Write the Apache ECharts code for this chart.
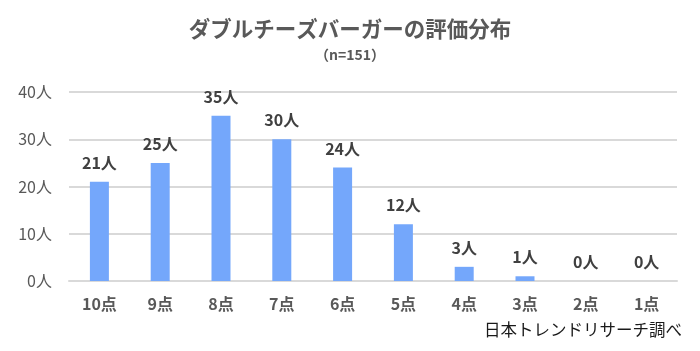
<!DOCTYPE html>
<html>
<head>
    <meta charset="utf-8">
    <title>ECharts</title>
    <script src="https://cdn.jsdelivr.net/npm/echarts@6/dist/echarts.min.js"></script>
</head>
<body style="margin:0">
<div id="main" style="width: 700px;height:351px;"></div>
<script type="text/javascript">
    var categories = ['10点', '9点', '8点', '7点', '6点', '5点', '4点', '3点', '2点', '1点'];
    var counts = [21, 25, 35, 30, 24, 12, 3, 1, 0, 0];
    var font = '"Noto Sans CJK JP", sans-serif';

    var myChart = echarts.init(document.getElementById('main'));
    var option = {
        backgroundColor: '#ffffff',
        textStyle: { fontFamily: font },
        title: [{
            text: 'ダブルチーズバーガーの評価分布',
            left: 'center',
            top: 13,
            textStyle: { fontFamily: font, fontSize: 21.5, fontWeight: 'bold', color: '#595959' }
        }, {
            text: '（n=151）',
            left: 'center',
            top: 43,
            textStyle: { fontFamily: font, fontSize: 14, fontWeight: 'bold', color: '#595959' }
        }, {
            text: '日本トレンドリサーチ調べ',
            right: 13,
            top: 316,
            textStyle: { fontFamily: font, fontSize: 16.5, fontWeight: 'normal', color: '#1a1a1a' }
        }],
        grid: { left: 69, right: 23, top: 92, bottom: 70 },
        xAxis: {
            type: 'category',
            data: categories,
            axisLine: { lineStyle: { color: '#d9d9d9', width: 2 } },
            axisTick: { show: false },
            axisLabel: { interval: 0, margin: 15, fontSize: 16, fontWeight: 'bold', color: '#595959', fontFamily: font }
        },
        yAxis: {
            type: 'value',
            min: 0,
            max: 40,
            interval: 10,
            axisLine: { show: false },
            axisTick: { show: false },
            splitLine: { lineStyle: { color: '#d9d9d9', width: 2 } },
            axisLabel: { formatter: '{value}人', margin: 17, fontSize: 16, color: '#595959', fontFamily: font }
        },
        series: [{
            type: 'bar',
            data: counts,
            barWidth: 19,
            itemStyle: { color: '#74a7fb' },
            label: {
                show: true,
                position: 'top',
                distance: 11,
                formatter: '{c}人',
                fontSize: 16,
                fontWeight: 'bold',
                color: '#404040',
                fontFamily: font
            }
        }]
    };
    myChart.setOption(option);
</script>
</body>
</html>
